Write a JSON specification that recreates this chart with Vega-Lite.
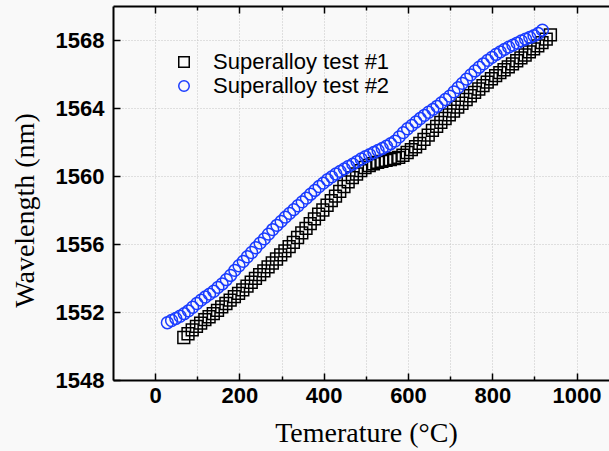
{
  "$schema": "https://vega.github.io/schema/vega-lite/v6.json",
  "width": 496,
  "height": 374,
  "autosize": {"type": "none"},
  "padding": {"left": 113, "top": 6, "right": 0, "bottom": 71},
  "background": "#f9f9f9",
  "config": {
    "view": {"stroke": null},
    "axis": {"domainColor": "#000", "domainWidth": 2, "tickColor": "#000", "tickWidth": 1.5, "gridColor": "#c4c4c4", "gridDash": [1, 2], "gridWidth": 1}
  },
  "data": {
    "values": [
      {"series": "Superalloy test #1", "T": 68, "wl": 1550.5},
      {"series": "Superalloy test #1", "T": 78, "wl": 1550.72},
      {"series": "Superalloy test #1", "T": 88, "wl": 1550.95},
      {"series": "Superalloy test #1", "T": 98, "wl": 1551.15},
      {"series": "Superalloy test #1", "T": 108, "wl": 1551.35},
      {"series": "Superalloy test #1", "T": 118, "wl": 1551.55},
      {"series": "Superalloy test #1", "T": 128, "wl": 1551.72},
      {"series": "Superalloy test #1", "T": 138, "wl": 1551.9},
      {"series": "Superalloy test #1", "T": 148, "wl": 1552.1},
      {"series": "Superalloy test #1", "T": 158, "wl": 1552.3},
      {"series": "Superalloy test #1", "T": 168, "wl": 1552.5},
      {"series": "Superalloy test #1", "T": 178, "wl": 1552.7},
      {"series": "Superalloy test #1", "T": 188, "wl": 1552.9},
      {"series": "Superalloy test #1", "T": 198, "wl": 1553.1},
      {"series": "Superalloy test #1", "T": 208, "wl": 1553.3},
      {"series": "Superalloy test #1", "T": 218, "wl": 1553.52},
      {"series": "Superalloy test #1", "T": 228, "wl": 1553.75},
      {"series": "Superalloy test #1", "T": 238, "wl": 1553.98},
      {"series": "Superalloy test #1", "T": 248, "wl": 1554.2},
      {"series": "Superalloy test #1", "T": 258, "wl": 1554.42},
      {"series": "Superalloy test #1", "T": 268, "wl": 1554.65},
      {"series": "Superalloy test #1", "T": 278, "wl": 1554.88},
      {"series": "Superalloy test #1", "T": 288, "wl": 1555.12},
      {"series": "Superalloy test #1", "T": 298, "wl": 1555.36},
      {"series": "Superalloy test #1", "T": 308, "wl": 1555.6},
      {"series": "Superalloy test #1", "T": 318, "wl": 1555.85},
      {"series": "Superalloy test #1", "T": 328, "wl": 1556.1},
      {"series": "Superalloy test #1", "T": 338, "wl": 1556.38},
      {"series": "Superalloy test #1", "T": 348, "wl": 1556.65},
      {"series": "Superalloy test #1", "T": 358, "wl": 1556.92},
      {"series": "Superalloy test #1", "T": 368, "wl": 1557.2},
      {"series": "Superalloy test #1", "T": 378, "wl": 1557.48},
      {"series": "Superalloy test #1", "T": 388, "wl": 1557.75},
      {"series": "Superalloy test #1", "T": 398, "wl": 1558.0},
      {"series": "Superalloy test #1", "T": 408, "wl": 1558.28},
      {"series": "Superalloy test #1", "T": 418, "wl": 1558.55},
      {"series": "Superalloy test #1", "T": 428, "wl": 1558.82},
      {"series": "Superalloy test #1", "T": 438, "wl": 1559.1},
      {"series": "Superalloy test #1", "T": 448, "wl": 1559.38},
      {"series": "Superalloy test #1", "T": 458, "wl": 1559.65},
      {"series": "Superalloy test #1", "T": 468, "wl": 1559.9},
      {"series": "Superalloy test #1", "T": 478, "wl": 1560.12},
      {"series": "Superalloy test #1", "T": 488, "wl": 1560.32},
      {"series": "Superalloy test #1", "T": 498, "wl": 1560.5},
      {"series": "Superalloy test #1", "T": 508, "wl": 1560.62},
      {"series": "Superalloy test #1", "T": 518, "wl": 1560.72},
      {"series": "Superalloy test #1", "T": 528, "wl": 1560.8},
      {"series": "Superalloy test #1", "T": 538, "wl": 1560.86},
      {"series": "Superalloy test #1", "T": 548, "wl": 1560.92},
      {"series": "Superalloy test #1", "T": 558, "wl": 1560.97},
      {"series": "Superalloy test #1", "T": 568, "wl": 1561.03},
      {"series": "Superalloy test #1", "T": 578, "wl": 1561.1},
      {"series": "Superalloy test #1", "T": 588, "wl": 1561.22},
      {"series": "Superalloy test #1", "T": 598, "wl": 1561.38},
      {"series": "Superalloy test #1", "T": 608, "wl": 1561.55},
      {"series": "Superalloy test #1", "T": 618, "wl": 1561.72},
      {"series": "Superalloy test #1", "T": 628, "wl": 1561.92},
      {"series": "Superalloy test #1", "T": 638, "wl": 1562.15},
      {"series": "Superalloy test #1", "T": 648, "wl": 1562.4},
      {"series": "Superalloy test #1", "T": 658, "wl": 1562.68},
      {"series": "Superalloy test #1", "T": 668, "wl": 1562.92},
      {"series": "Superalloy test #1", "T": 678, "wl": 1563.15},
      {"series": "Superalloy test #1", "T": 688, "wl": 1563.38},
      {"series": "Superalloy test #1", "T": 698, "wl": 1563.6},
      {"series": "Superalloy test #1", "T": 708, "wl": 1563.82},
      {"series": "Superalloy test #1", "T": 718, "wl": 1564.05},
      {"series": "Superalloy test #1", "T": 728, "wl": 1564.28},
      {"series": "Superalloy test #1", "T": 738, "wl": 1564.5},
      {"series": "Superalloy test #1", "T": 748, "wl": 1564.72},
      {"series": "Superalloy test #1", "T": 758, "wl": 1564.92},
      {"series": "Superalloy test #1", "T": 768, "wl": 1565.12},
      {"series": "Superalloy test #1", "T": 778, "wl": 1565.32},
      {"series": "Superalloy test #1", "T": 788, "wl": 1565.52},
      {"series": "Superalloy test #1", "T": 798, "wl": 1565.72},
      {"series": "Superalloy test #1", "T": 808, "wl": 1565.9},
      {"series": "Superalloy test #1", "T": 818, "wl": 1566.08},
      {"series": "Superalloy test #1", "T": 828, "wl": 1566.25},
      {"series": "Superalloy test #1", "T": 838, "wl": 1566.42},
      {"series": "Superalloy test #1", "T": 848, "wl": 1566.6},
      {"series": "Superalloy test #1", "T": 858, "wl": 1566.78},
      {"series": "Superalloy test #1", "T": 868, "wl": 1566.95},
      {"series": "Superalloy test #1", "T": 878, "wl": 1567.12},
      {"series": "Superalloy test #1", "T": 888, "wl": 1567.3},
      {"series": "Superalloy test #1", "T": 898, "wl": 1567.48},
      {"series": "Superalloy test #1", "T": 908, "wl": 1567.65},
      {"series": "Superalloy test #1", "T": 918, "wl": 1567.85},
      {"series": "Superalloy test #1", "T": 928, "wl": 1568.05},
      {"series": "Superalloy test #1", "T": 938, "wl": 1568.3},
      {"series": "Superalloy test #2", "T": 29, "wl": 1551.37},
      {"series": "Superalloy test #2", "T": 39, "wl": 1551.5},
      {"series": "Superalloy test #2", "T": 49, "wl": 1551.62},
      {"series": "Superalloy test #2", "T": 59, "wl": 1551.75},
      {"series": "Superalloy test #2", "T": 69, "wl": 1551.9},
      {"series": "Superalloy test #2", "T": 79, "wl": 1552.07},
      {"series": "Superalloy test #2", "T": 89, "wl": 1552.28},
      {"series": "Superalloy test #2", "T": 99, "wl": 1552.5},
      {"series": "Superalloy test #2", "T": 109, "wl": 1552.7},
      {"series": "Superalloy test #2", "T": 119, "wl": 1552.88},
      {"series": "Superalloy test #2", "T": 129, "wl": 1553.05},
      {"series": "Superalloy test #2", "T": 139, "wl": 1553.22},
      {"series": "Superalloy test #2", "T": 149, "wl": 1553.45},
      {"series": "Superalloy test #2", "T": 159, "wl": 1553.65},
      {"series": "Superalloy test #2", "T": 169, "wl": 1553.9},
      {"series": "Superalloy test #2", "T": 179, "wl": 1554.15},
      {"series": "Superalloy test #2", "T": 189, "wl": 1554.45},
      {"series": "Superalloy test #2", "T": 199, "wl": 1554.72},
      {"series": "Superalloy test #2", "T": 209, "wl": 1554.98},
      {"series": "Superalloy test #2", "T": 219, "wl": 1555.25},
      {"series": "Superalloy test #2", "T": 229, "wl": 1555.5},
      {"series": "Superalloy test #2", "T": 239, "wl": 1555.78},
      {"series": "Superalloy test #2", "T": 249, "wl": 1556.05},
      {"series": "Superalloy test #2", "T": 259, "wl": 1556.3},
      {"series": "Superalloy test #2", "T": 269, "wl": 1556.58},
      {"series": "Superalloy test #2", "T": 279, "wl": 1556.85},
      {"series": "Superalloy test #2", "T": 289, "wl": 1557.1},
      {"series": "Superalloy test #2", "T": 299, "wl": 1557.33},
      {"series": "Superalloy test #2", "T": 309, "wl": 1557.58},
      {"series": "Superalloy test #2", "T": 319, "wl": 1557.8},
      {"series": "Superalloy test #2", "T": 329, "wl": 1558.02},
      {"series": "Superalloy test #2", "T": 339, "wl": 1558.25},
      {"series": "Superalloy test #2", "T": 349, "wl": 1558.48},
      {"series": "Superalloy test #2", "T": 359, "wl": 1558.7},
      {"series": "Superalloy test #2", "T": 369, "wl": 1558.93},
      {"series": "Superalloy test #2", "T": 379, "wl": 1559.15},
      {"series": "Superalloy test #2", "T": 389, "wl": 1559.38},
      {"series": "Superalloy test #2", "T": 399, "wl": 1559.58},
      {"series": "Superalloy test #2", "T": 409, "wl": 1559.78},
      {"series": "Superalloy test #2", "T": 419, "wl": 1559.95},
      {"series": "Superalloy test #2", "T": 429, "wl": 1560.12},
      {"series": "Superalloy test #2", "T": 439, "wl": 1560.27},
      {"series": "Superalloy test #2", "T": 449, "wl": 1560.42},
      {"series": "Superalloy test #2", "T": 459, "wl": 1560.57},
      {"series": "Superalloy test #2", "T": 469, "wl": 1560.7},
      {"series": "Superalloy test #2", "T": 479, "wl": 1560.85},
      {"series": "Superalloy test #2", "T": 489, "wl": 1561.0},
      {"series": "Superalloy test #2", "T": 499, "wl": 1561.13},
      {"series": "Superalloy test #2", "T": 509, "wl": 1561.25},
      {"series": "Superalloy test #2", "T": 519, "wl": 1561.38},
      {"series": "Superalloy test #2", "T": 529, "wl": 1561.5},
      {"series": "Superalloy test #2", "T": 539, "wl": 1561.62},
      {"series": "Superalloy test #2", "T": 549, "wl": 1561.75},
      {"series": "Superalloy test #2", "T": 559, "wl": 1561.9},
      {"series": "Superalloy test #2", "T": 569, "wl": 1562.05},
      {"series": "Superalloy test #2", "T": 579, "wl": 1562.3},
      {"series": "Superalloy test #2", "T": 589, "wl": 1562.55},
      {"series": "Superalloy test #2", "T": 599, "wl": 1562.78},
      {"series": "Superalloy test #2", "T": 609, "wl": 1562.98},
      {"series": "Superalloy test #2", "T": 619, "wl": 1563.18},
      {"series": "Superalloy test #2", "T": 629, "wl": 1563.38},
      {"series": "Superalloy test #2", "T": 639, "wl": 1563.57},
      {"series": "Superalloy test #2", "T": 649, "wl": 1563.75},
      {"series": "Superalloy test #2", "T": 659, "wl": 1563.92},
      {"series": "Superalloy test #2", "T": 669, "wl": 1564.1},
      {"series": "Superalloy test #2", "T": 679, "wl": 1564.3},
      {"series": "Superalloy test #2", "T": 689, "wl": 1564.5},
      {"series": "Superalloy test #2", "T": 699, "wl": 1564.7},
      {"series": "Superalloy test #2", "T": 709, "wl": 1564.95},
      {"series": "Superalloy test #2", "T": 719, "wl": 1565.2},
      {"series": "Superalloy test #2", "T": 729, "wl": 1565.45},
      {"series": "Superalloy test #2", "T": 739, "wl": 1565.7},
      {"series": "Superalloy test #2", "T": 749, "wl": 1565.95},
      {"series": "Superalloy test #2", "T": 759, "wl": 1566.18},
      {"series": "Superalloy test #2", "T": 769, "wl": 1566.4},
      {"series": "Superalloy test #2", "T": 779, "wl": 1566.6},
      {"series": "Superalloy test #2", "T": 789, "wl": 1566.8},
      {"series": "Superalloy test #2", "T": 799, "wl": 1566.98},
      {"series": "Superalloy test #2", "T": 809, "wl": 1567.15},
      {"series": "Superalloy test #2", "T": 819, "wl": 1567.3},
      {"series": "Superalloy test #2", "T": 829, "wl": 1567.45},
      {"series": "Superalloy test #2", "T": 839, "wl": 1567.58},
      {"series": "Superalloy test #2", "T": 849, "wl": 1567.7},
      {"series": "Superalloy test #2", "T": 859, "wl": 1567.82},
      {"series": "Superalloy test #2", "T": 869, "wl": 1567.95},
      {"series": "Superalloy test #2", "T": 879, "wl": 1568.05},
      {"series": "Superalloy test #2", "T": 889, "wl": 1568.15},
      {"series": "Superalloy test #2", "T": 899, "wl": 1568.25},
      {"series": "Superalloy test #2", "T": 909, "wl": 1568.38},
      {"series": "Superalloy test #2", "T": 919, "wl": 1568.58}
    ]
  },
  "resolve": {"axis": {"x": "independent"}},
  "layer": [
    {
      "mark": {"type": "point", "filled": false, "strokeWidth": 1.5, "size": 140, "opacity": 1},
      "encoding": {
        "x": {
          "field": "T", "type": "quantitative",
          "scale": {"domain": [-100, 1077], "nice": false, "zero": false},
          "axis": {
            "orient": "bottom",
            "values": [0, 100, 200, 300, 400, 500, 600, 700, 800, 900, 1000],
            "format": "d",
            "labelExpr": "datum.value % 200 === 0 ? datum.label : ''",
            "tickSize": {"condition": {"test": "datum.value % 200 === 0", "value": -7}, "value": -4},
            "labelPadding": 12,
            "labelFont": "Liberation Sans", "labelFontSize": 22, "labelFontWeight": "bold", "labelColor": "#000",
            "grid": true,
            "title": "Temerature (°C)",
            "titleFont": "Liberation Serif", "titleFontSize": 28, "titleFontWeight": "normal", "titleColor": "#000",
            "titlePadding": 13,
            "titleX": 253
          }
        },
        "y": {
          "field": "wl", "type": "quantitative",
          "scale": {"domain": [1548, 1570], "nice": false, "zero": false},
          "axis": {
            "values": [1548, 1550, 1552, 1554, 1556, 1558, 1560, 1562, 1564, 1566, 1568, 1570],
            "format": "d",
            "labelExpr": "(datum.value - 1548) % 4 === 0 ? datum.label : ''",
            "tickSize": {"condition": {"test": "(datum.value - 1548) % 4 === 0", "value": -7}, "value": -4},
            "labelPadding": 16,
            "labelFont": "Liberation Sans", "labelFontSize": 22, "labelFontWeight": "bold", "labelColor": "#000",
            "grid": true,
            "title": "Wavelength (nm)",
            "titleFont": "Liberation Serif", "titleFontSize": 28, "titleFontWeight": "normal", "titleColor": "#000",
            "titlePadding": 16,
            "titleY": 204
          }
        },
        "shape": {
          "field": "series", "type": "nominal",
          "scale": {"domain": ["Superalloy test #1", "Superalloy test #2"], "range": ["square", "circle"]},
          "legend": {
            "title": null, "orient": "none", "legendX": 60, "legendY": 45, "padding": 0,
            "labelFont": "Liberation Sans", "labelFontSize": 22, "labelColor": "#000", "labelLimit": 400,
            "labelOffset": 18, "rowPadding": 2, "symbolSize": 110, "symbolStrokeWidth": 1.5, "symbolFillColor": "transparent"
          }
        },
        "color": {
          "field": "series", "type": "nominal",
          "scale": {"domain": ["Superalloy test #1", "Superalloy test #2"], "range": ["#000000", "#1a3cff"]},
          "legend": {
            "title": null, "orient": "none", "legendX": 60, "legendY": 45, "padding": 0,
            "labelFont": "Liberation Sans", "labelFontSize": 22, "labelColor": "#000", "labelLimit": 400,
            "labelOffset": 18, "rowPadding": 2, "symbolSize": 110, "symbolStrokeWidth": 1.5, "symbolFillColor": "transparent"
          }
        }
      }
    },
    {
      "mark": {"type": "point", "opacity": 0},
      "encoding": {
        "x": {
          "field": "T", "type": "quantitative",
          "axis": {
            "orient": "top",
            "values": [0, 100, 200, 300, 400, 500, 600, 700, 800, 900, 1000],
            "labels": false,
            "tickSize": {"condition": {"test": "datum.value % 200 === 0", "value": -7}, "value": -4},
            "grid": false,
            "title": null
          }
        },
        "y": {"field": "wl", "type": "quantitative"}
      }
    }
  ]
}
